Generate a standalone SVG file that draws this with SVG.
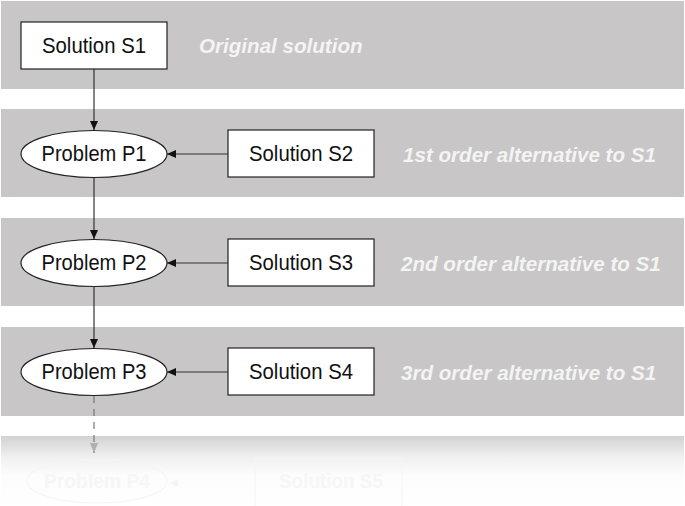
<svg xmlns="http://www.w3.org/2000/svg" width="685" height="506" viewBox="0 0 685 506">
<style>
.band{fill:#c8c6c7}
.box{fill:#fff;stroke:#222;stroke-width:1.2}
.node{font-family:"Liberation Sans",Arial,sans-serif;font-size:21.5px;fill:#111;text-anchor:middle}
.lbl{font-family:"Liberation Sans",Arial,sans-serif;font-size:20.6px;font-weight:bold;font-style:italic;fill:#f4f4f4}
.conn{stroke:#333;stroke-width:1.2;fill:none}
.ghost{fill:none;stroke:#f5f5f5;stroke-width:1.2}
.gtext{font-family:"Liberation Sans",Arial,sans-serif;font-size:21px;font-weight:bold;fill:#f6f6f6;text-anchor:middle}
</style>
<defs>
<marker id="ah" markerWidth="10" markerHeight="8" refX="9" refY="4" orient="auto" markerUnits="userSpaceOnUse">
<path d="M0,0 L9,4 L0,8 Z" fill="#111"/>
</marker>
<marker id="ahg" markerWidth="12" markerHeight="8" refX="10" refY="4" orient="auto" markerUnits="userSpaceOnUse">
<path d="M0,0 L10,4 L0,8 Z" fill="#b0b0b0"/>
</marker>
<linearGradient id="fade" x1="0" y1="0" x2="0" y2="1">
<stop offset="0" stop-color="#d2d2d2"/>
<stop offset="0.3" stop-color="#f0f0f0"/>
<stop offset="0.55" stop-color="#fcfcfc"/>
<stop offset="1" stop-color="#ffffff"/>
</linearGradient>
</defs>
<g id="bands">
<rect class="band" x="1" y="1" width="683" height="88"/>
<rect class="band" x="1" y="109" width="683" height="88"/>
<rect class="band" x="1" y="218" width="683" height="88"/>
<rect class="band" x="1" y="327" width="683" height="89"/>
<rect x="1" y="436" width="683" height="70" fill="url(#fade)"/>
</g>
<g id="labels">
<text class="lbl" x="199" y="53">Original solution</text>
<text class="lbl" x="403" y="162">1st order alternative to S1</text>
<text class="lbl" x="401" y="271">2nd order alternative to S1</text>
<text class="lbl" x="401" y="380">3rd order alternative to S1</text>
</g>
<g id="connectors">
<line class="conn" x1="94" y1="69" x2="94" y2="130" marker-end="url(#ah)"/>
<line class="conn" x1="94" y1="177" x2="94" y2="239" marker-end="url(#ah)"/>
<line class="conn" x1="94" y1="286" x2="94" y2="348" marker-end="url(#ah)"/>
<line class="conn" x1="228" y1="154" x2="167" y2="154" marker-end="url(#ah)"/>
<line class="conn" x1="228" y1="263" x2="167" y2="263" marker-end="url(#ah)"/>
<line class="conn" x1="228" y1="372" x2="167" y2="372" marker-end="url(#ah)"/>
<line x1="94" y1="396" x2="94" y2="453" stroke="#777" stroke-width="1.2" stroke-dasharray="7,6" marker-end="url(#ahg)"/>
</g>
<g id="S1">
<rect class="box" x="21" y="22" width="146" height="47"/>
<text class="node" x="94" y="53" textLength="104" lengthAdjust="spacingAndGlyphs">Solution S1</text>
</g>
<g id="P1">
<ellipse class="box" cx="94" cy="154" rx="73" ry="23.5"/>
<text class="node" x="94" y="161" textLength="105" lengthAdjust="spacingAndGlyphs">Problem P1</text>
</g>
<g id="S2">
<rect class="box" x="228" y="130" width="146" height="47"/>
<text class="node" x="301" y="161" textLength="104" lengthAdjust="spacingAndGlyphs">Solution S2</text>
</g>
<g id="P2">
<ellipse class="box" cx="94" cy="263" rx="73" ry="23.5"/>
<text class="node" x="94" y="270" textLength="105" lengthAdjust="spacingAndGlyphs">Problem P2</text>
</g>
<g id="S3">
<rect class="box" x="228" y="239" width="146" height="47"/>
<text class="node" x="301" y="270" textLength="104" lengthAdjust="spacingAndGlyphs">Solution S3</text>
</g>
<g id="P3">
<ellipse class="box" cx="94" cy="372" rx="73" ry="23.5"/>
<text class="node" x="94" y="379" textLength="105" lengthAdjust="spacingAndGlyphs">Problem P3</text>
</g>
<g id="S4">
<rect class="box" x="228" y="348" width="146" height="47"/>
<text class="node" x="301" y="379" textLength="104" lengthAdjust="spacingAndGlyphs">Solution S4</text>
</g>
<g id="P4">
<ellipse class="ghost" cx="97" cy="481" rx="70" ry="22"/>
<text class="gtext" x="97" y="488" textLength="106" lengthAdjust="spacingAndGlyphs">Problem P4</text>
<path d="M170,483 L178,479 L178,487 Z" fill="#f5f5f5"/>
</g>
<g id="S5">
<rect class="ghost" x="255" y="458" width="147" height="52"/>
<text class="gtext" x="331" y="488" textLength="104" lengthAdjust="spacingAndGlyphs">Solution S5</text>
</g>
</svg>
